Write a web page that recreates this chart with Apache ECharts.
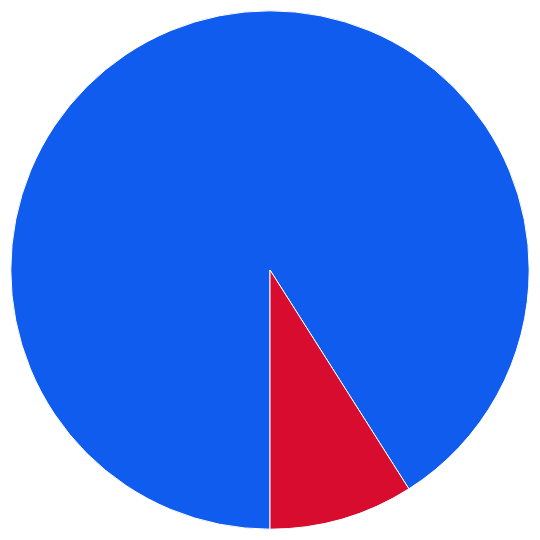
<!DOCTYPE html>
<html><head><meta charset="utf-8">
<script src="https://cdn.jsdelivr.net/npm/echarts@6/dist/echarts.min.js"></script>
<style>html,body{margin:0;padding:0;background:#fff}#c{width:540px;height:540px}</style>
</head><body><div id="c"></div>
<script>
const categories = ['A', 'B'];
const values = [91, 9];
const colors = ['#105CEF', '#D80C2F'];
const chart = echarts.init(document.getElementById('c'));
chart.setOption({
  animation: false,
  series: [{
    type: 'pie',
    center: ['50%', '50%'],
    radius: [0, '96%'],
    startAngle: -90,
    clockwise: true,
    label: { show: false },
    labelLine: { show: false },
    itemStyle: { borderColor: '#fff', borderWidth: 1 },
    data: categories.map((c, i) => ({ name: c, value: values[i], itemStyle: { color: colors[i] } }))
  }]
});
</script></body></html>
